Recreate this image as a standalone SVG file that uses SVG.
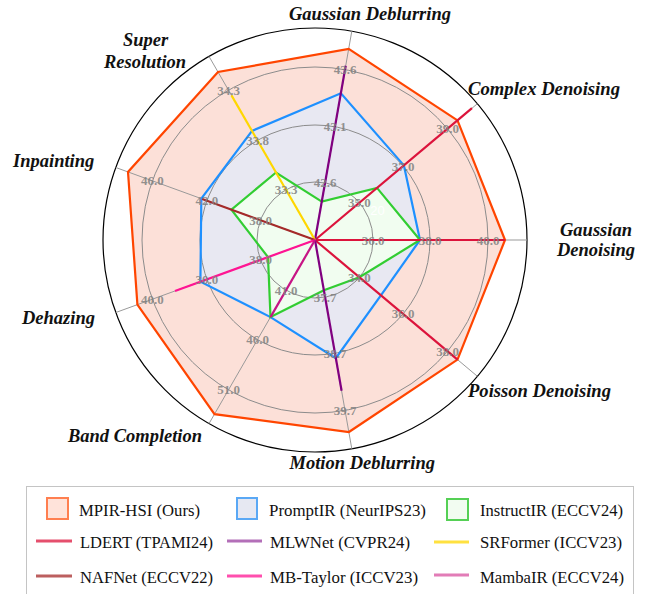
<svg xmlns="http://www.w3.org/2000/svg" width="646" height="594" viewBox="0 0 646 594">
<style>
.grid{fill:none;stroke:#8c8c8c;stroke-width:1}
.spoke{stroke:#999;stroke-width:1}
.tick{font-family:'Liberation Serif','DejaVu Serif',serif;font-weight:bold;font-size:13px;fill:#808080;fill-opacity:0.85;text-anchor:middle}
.axis{font-family:'Liberation Serif','DejaVu Serif',serif;font-weight:bold;font-style:italic;font-size:18.5px;fill:#111}
.leg{font-family:'Liberation Serif','DejaVu Serif',serif;font-size:17px;fill:#111}
.ser{fill:none;stroke-width:2.2;stroke-linejoin:miter}
.sp{stroke-width:2.2;fill:none}
.ll{stroke-width:3;stroke-opacity:0.75}
</style>
<rect width="646" height="594" fill="#fff"/>
<g id="fills">
<polygon points="505,240 457.5,120.4 348.7,48.9 218,72 128,171.9 137.4,304.6 214.5,414.1 348.9,432 457.5,359.6" fill="#FCE0D8"/>
<polygon points="420,240 403.9,165.4 340.9,93.3 252,130.9 201.3,198.6 200.4,281.7 270.5,317.1 335.8,358.2 380.9,295.3" fill="#E8E8F2"/>
<polygon points="420,240 377,187.9 321.8,201.6 276,172.5 231.4,209.6 268,257.1 270.5,317.1 323.9,290.2 359.4,277.3" fill="#F1FDF0"/>
</g>
<g id="grid">
<circle class="grid" cx="315" cy="240" r="58"/>
<circle class="grid" cx="315" cy="240" r="115"/>
<circle class="grid" cx="315" cy="240" r="173"/>
<circle cx="315" cy="240" r="212" fill="none" stroke="#000" stroke-width="1.2"/>
<g class="spoke">
<line x1="315" y1="240" x2="527" y2="240"/>
<line x1="315" y1="240" x2="477.4" y2="103.7"/>
<line x1="315" y1="240" x2="351.8" y2="31.2"/>
<line x1="315" y1="240" x2="209" y2="56.4"/>
<line x1="315" y1="240" x2="115.8" y2="167.5"/>
<line x1="315" y1="240" x2="115.8" y2="312.5"/>
<line x1="315" y1="240" x2="209" y2="423.6"/>
<line x1="315" y1="240" x2="351.8" y2="448.8"/>
<line x1="315" y1="240" x2="477.4" y2="376.3"/>
</g>
</g>
<g id="series">
<polygon id="mpir" class="ser" stroke="#FF4500" points="505,240 457.5,120.4 348.7,48.9 218,72 128,171.9 137.4,304.6 214.5,414.1 348.9,432 457.5,359.6"/>
<polygon id="promptir" class="ser" stroke="#1E90FF" points="420,240 403.9,165.4 340.9,93.3 252,130.9 201.3,198.6 200.4,281.7 270.5,317.1 335.8,358.2 380.9,295.3"/>
<polygon id="instructir" class="ser" stroke="#32CD32" points="420,240 377,187.9 321.8,201.6 276,172.5 231.4,209.6 268,257.1 270.5,317.1 323.9,290.2 359.4,277.3"/>
</g>
<g id="connectors">
<g id="ldert" class="sp" stroke="#DC143C">
<line x1="315" y1="240" x2="472" y2="108.2"/>
<line x1="315" y1="240" x2="505" y2="240"/>
<line x1="315" y1="240" x2="457.5" y2="359.6"/>
</g>
<g id="mlwnet" class="sp" stroke="#800080">
<line x1="315" y1="240" x2="345.7" y2="65.7"/>
<line x1="315" y1="240" x2="341.6" y2="390.7"/>
</g>
<line id="srformer" class="sp" stroke="#FFD700" x1="315" y1="240" x2="231.5" y2="95.4"/>
<line id="nafnet" class="sp" stroke="#A52A2A" x1="315" y1="240" x2="202.2" y2="199"/>
<line id="mbtaylor" class="sp" stroke="#FF1493" x1="315" y1="240" x2="175" y2="291"/>
<line id="mambair" class="sp" stroke="#C71585" x1="315" y1="240" x2="270.5" y2="317.1"/>
</g>
<g id="ticks">
<text class="tick" x="373" y="244.5">36.0</text>
<text class="tick" x="430" y="244.5">38.0</text>
<text class="tick" x="488" y="244.5">40.0</text>
<text class="tick" x="359.4" y="207.2">35.0</text>
<text class="tick" x="403.1" y="170.6">37.0</text>
<text class="tick" x="447.5" y="133.3">39.0</text>
<text class="tick" x="325.1" y="187.4">42.6</text>
<text class="tick" x="335" y="131.2">43.1</text>
<text class="tick" x="345" y="74.1">43.6</text>
<text class="tick" x="286" y="194.3">33.3</text>
<text class="tick" x="257.5" y="144.9">33.8</text>
<text class="tick" x="228.5" y="94.7">34.3</text>
<text class="tick" x="260.5" y="224.7">38.0</text>
<text class="tick" x="206.9" y="205.2">42.0</text>
<text class="tick" x="152.4" y="185.3">46.0</text>
<text class="tick" x="260.5" y="264.3">38.0</text>
<text class="tick" x="206.9" y="283.8">30.0</text>
<text class="tick" x="152.4" y="303.7">40.0</text>
<text class="tick" x="286" y="294.7">41.0</text>
<text class="tick" x="257.5" y="344.1">46.0</text>
<text class="tick" x="228.5" y="394.3">51.0</text>
<text class="tick" x="325.1" y="301.6">37.7</text>
<text class="tick" x="335" y="357.8">38.7</text>
<text class="tick" x="345" y="414.9">39.7</text>
<text class="tick" x="359.4" y="281.8">34.0</text>
<text class="tick" x="403.1" y="318.4">36.0</text>
<text class="tick" x="447.5" y="355.7">38.0</text>
<text x="377.5" y="215" font-family="Liberation Sans, sans-serif" font-size="13" fill="#fff" text-anchor="middle">20</text>
</g>
<g id="axis-labels">
<text class="axis" x="289" y="20" textLength="162" lengthAdjust="spacingAndGlyphs">Gaussian Deblurring</text>
<text class="axis" x="468" y="95" textLength="152" lengthAdjust="spacingAndGlyphs">Complex Denoising</text>
<text class="axis" x="596" y="236" text-anchor="middle">Gaussian</text>
<text class="axis" x="596" y="256" text-anchor="middle">Denoising</text>
<text class="axis" x="468" y="397" textLength="143" lengthAdjust="spacingAndGlyphs">Poisson Denoising</text>
<text class="axis" x="289.5" y="469" textLength="145.5" lengthAdjust="spacingAndGlyphs">Motion Deblurring</text>
<text class="axis" x="68" y="442" textLength="134" lengthAdjust="spacingAndGlyphs">Band Completion</text>
<text class="axis" x="22" y="324">Dehazing</text>
<text class="axis" x="13" y="167">Inpainting</text>
<text class="axis" x="145.5" y="46" text-anchor="middle">Super</text>
<text class="axis" x="145" y="68" text-anchor="middle">Resolution</text>
</g>
<g id="legend">
<rect x="26.5" y="486.5" width="607" height="130" fill="#fff" stroke="#c4c4c4" stroke-width="1"/>
<rect x="47" y="498" width="21" height="21" fill="#FFE3DA" stroke="#FF7F50" stroke-width="2"/>
<text class="leg" x="79" y="516" textLength="121" lengthAdjust="spacingAndGlyphs">MPIR-HSI (Ours)</text>
<rect x="237" y="498" width="20" height="21" fill="#E6E8F2" stroke="#5AA8F5" stroke-width="2"/>
<text class="leg" x="269" y="516" textLength="157" lengthAdjust="spacingAndGlyphs">PromptIR (NeurIPS23)</text>
<rect x="447" y="499" width="21" height="21" fill="#F2FCF1" stroke="#55D055" stroke-width="2"/>
<text class="leg" x="480" y="516" textLength="143" lengthAdjust="spacingAndGlyphs">InstructIR (ECCV24)</text>
<line class="ll" x1="36" y1="541" x2="72" y2="541" stroke="#DC143C"/>
<text class="leg" x="80" y="548" textLength="133" lengthAdjust="spacingAndGlyphs">LDERT (TPAMI24)</text>
<line class="ll" x1="227" y1="541" x2="262" y2="541" stroke="#9A3FA0"/>
<text class="leg" x="270" y="548" textLength="140" lengthAdjust="spacingAndGlyphs">MLWNet (CVPR24)</text>
<line class="ll" x1="434" y1="542" x2="469" y2="542" stroke="#FFD700"/>
<text class="leg" x="480" y="548" textLength="142" lengthAdjust="spacingAndGlyphs">SRFormer (ICCV23)</text>
<line class="ll" x1="36" y1="576" x2="72" y2="576" stroke="#A52A2A"/>
<text class="leg" x="80" y="583" textLength="133" lengthAdjust="spacingAndGlyphs">NAFNet (ECCV22)</text>
<line class="ll" x1="227" y1="576" x2="262" y2="576" stroke="#FF1493"/>
<text class="leg" x="270" y="583" textLength="148" lengthAdjust="spacingAndGlyphs">MB-Taylor (ICCV23)</text>
<line class="ll" x1="434" y1="575" x2="469" y2="575" stroke="#D8509F"/>
<text class="leg" x="480" y="583" textLength="144" lengthAdjust="spacingAndGlyphs">MambaIR (ECCV24)</text>
</g>
</svg>
